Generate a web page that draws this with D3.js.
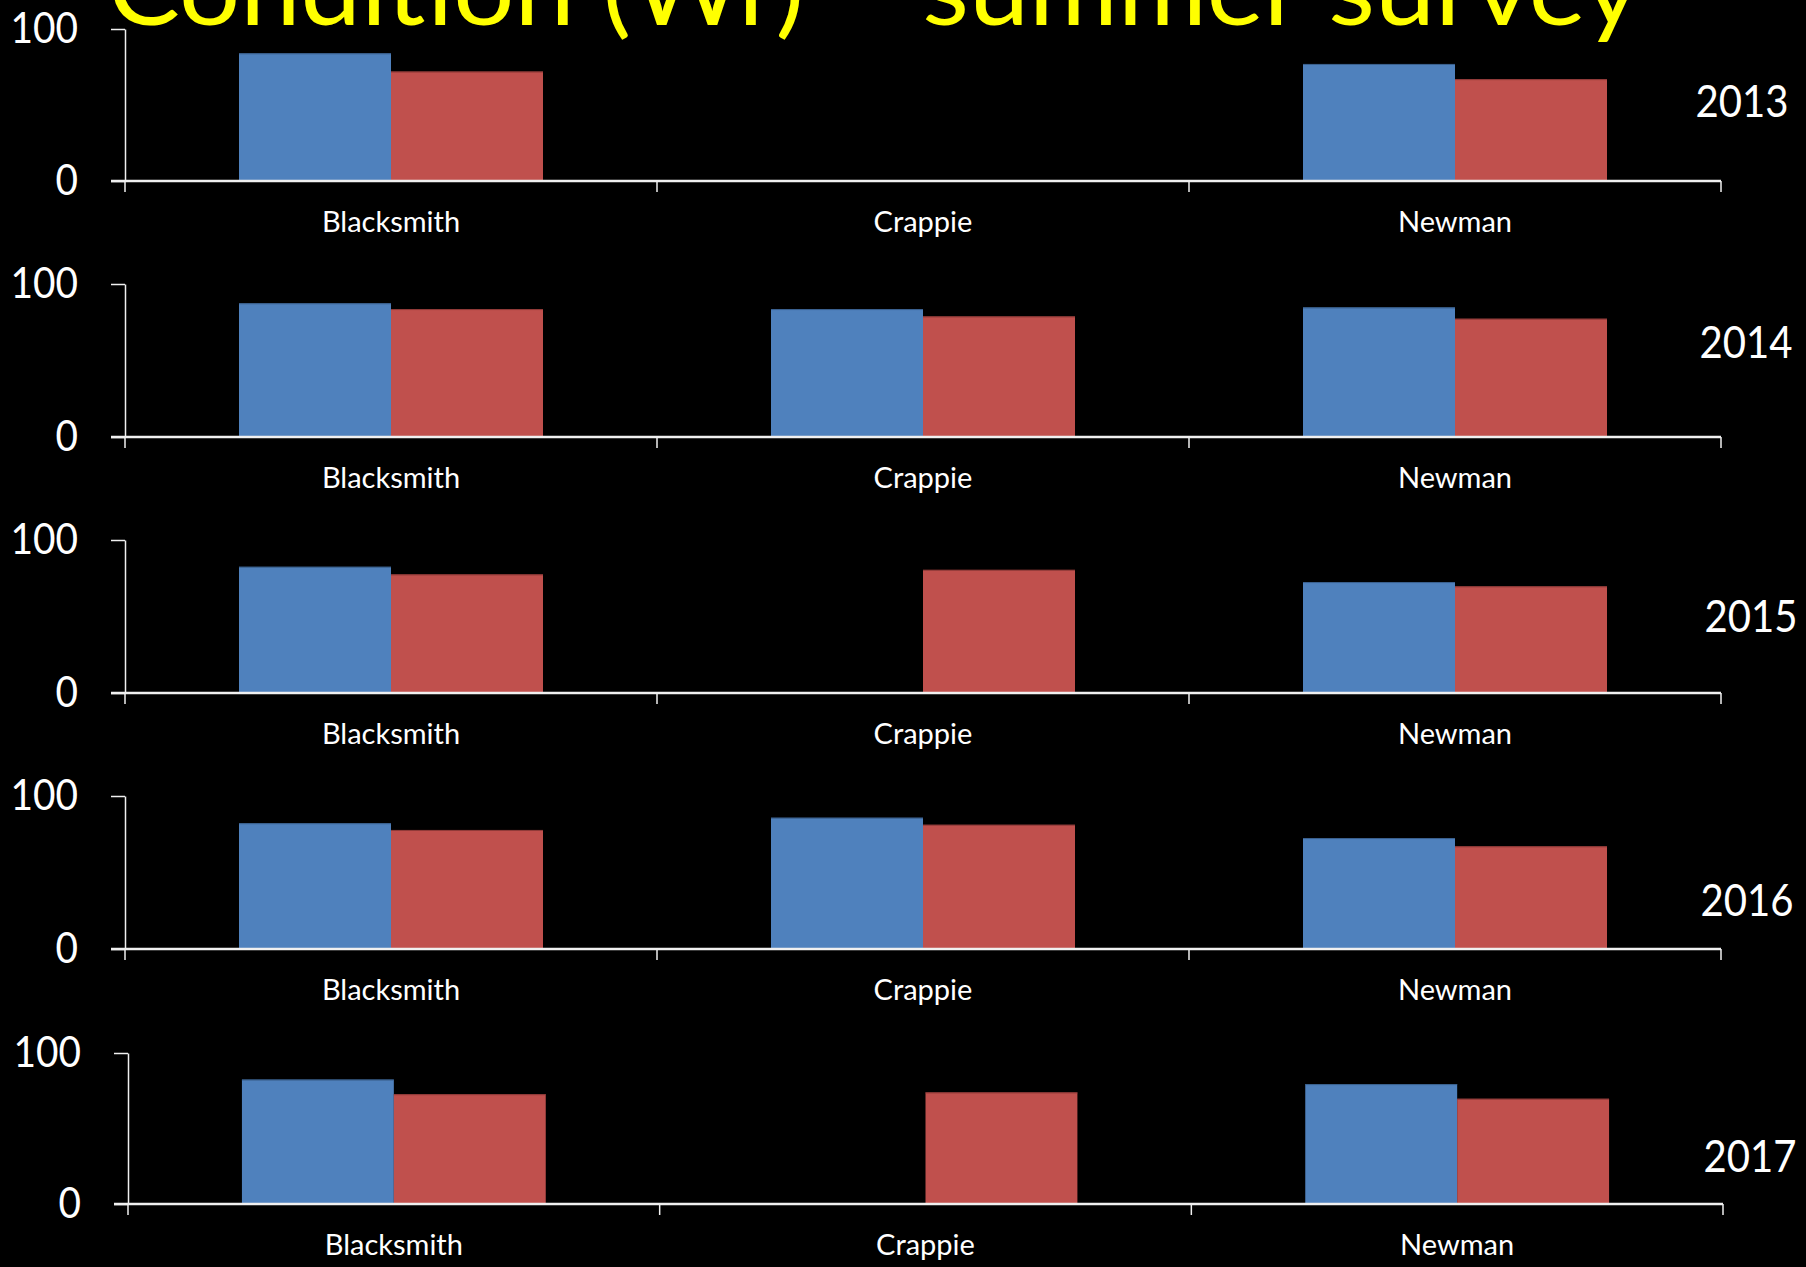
<!DOCTYPE html>
<html>
<head>
<meta charset="utf-8">
<script src="https://cdn.jsdelivr.net/npm/d3@7"></script>
<style>
  html, body { margin: 0; padding: 0; background: #000; }
  svg { display: block; }
  text { font-family: Lato, "Open Sans", sans-serif; }
</style>
</head>
<body>
<svg id="chart" width="1806" height="1267"></svg>
<script>
// ---- data ----
const titleText = "Condition (Wr) \u2013 summer survey";
const categories = ["Blacksmith", "Crappie", "Newman"];
const years = ["2013", "2014", "2015", "2016", "2017"];
const seriesNames = ["Series 1", "Series 2"];
// values per year, per category (null = no bar)
const series1Values = [
  [84, null, 77],
  [87.4, 83.6, 84.7],
  [82.5, null, 72.5],
  [82.2, 85.8, 72.5],
  [82.4, null, 79.4]
];
const series2Values = [
  [72, null, 67],
  [83.6, 78.8, 77.3],
  [77.5, 80.5, 69.7],
  [77.8, 81.2, 67.1],
  [72.7, 73.9, 69.7]
];
const yTickValues = [0, 100];

// ---- layout / style ----
const colors = ["#4F81BD", "#C0504D"];
const panelTop = [29, 284, 540, 796, 1053];
const panelBase = [181, 437, 693, 949, 1204];
const panelLeft = [125, 125, 125, 125, 128];
const panelRight = [1721, 1721, 1721, 1721, 1723];
const yearX = [1742, 1746, 1751, 1747, 1750];
const yearY = [100, 341, 615, 899, 1155];

const svg = d3.select("#chart");
svg.append("rect").attr("width", 1806).attr("height", 1267).attr("fill", "#000");

// title (clipped at the top of the page like in the reference)
svg.append("text")
  .attr("x", 108).attr("y", 25)
  .attr("fill", "#FFFF00")
  .attr("font-size", 100)
  .attr("textLength", 1532)
  .attr("lengthAdjust", "spacingAndGlyphs")
  .text(titleText);

years.forEach((yr, i) => {
  const g = svg.append("g");
  const x = d3.scaleBand().domain(categories).range([panelLeft[i], panelRight[i]]).padding(0);
  const xs = d3.scaleBand().domain(seriesNames).range([0, x.bandwidth()]).paddingInner(0).paddingOuter(0.75);
  const y = d3.scaleLinear().domain([0, 100]).range([panelBase[i], panelTop[i]]);

  const rows = categories.map((c, j) => ({
    cat: c,
    vals: [series1Values[i][j], series2Values[i][j]]
  }));

  // bars
  rows.forEach(r => {
    r.vals.forEach((v, k) => {
      if (v == null) return;
      g.append("rect")
        .attr("x", x(r.cat) + xs(seriesNames[k]))
        .attr("width", xs.bandwidth())
        .attr("y", y(v))
        .attr("height", y(0) - y(v))
        .attr("fill", colors[k]);
      g.append("line")
        .attr("x1", x(r.cat) + xs(seriesNames[k]))
        .attr("x2", x(r.cat) + xs(seriesNames[k]) + xs.bandwidth())
        .attr("y1", y(v) + 0.5).attr("y2", y(v) + 0.5)
        .attr("stroke", k === 0 ? "#3A5F8C" : "#8E3A38")
        .attr("stroke-width", 1);
    });
  });

  // y axis
  const yAxis = d3.axisLeft(y).tickValues(yTickValues).tickSize(14).tickPadding(33).tickSizeOuter(0);
  const ya = g.append("g").attr("transform", `translate(${panelLeft[i]},0)`).call(yAxis);
  ya.select(".domain").attr("stroke", "#f0f0f0").attr("stroke-width", 1.5);
  ya.selectAll(".tick line").attr("stroke", "#f0f0f0").attr("stroke-width", 1.5);
  ya.selectAll(".tick text")
    .attr("fill", "#fff")
    .attr("font-size", 42)
    .attr("font-family", "Lato, sans-serif")
    .attr("textLength", d => String(d).length * 22.5)
    .attr("lengthAdjust", "spacingAndGlyphs");

  // x axis: labels at band centres, ticks at band boundaries
  const xAxis = d3.axisBottom(x).tickSize(0).tickPadding(0).tickSizeOuter(0);
  const xa = g.append("g").attr("transform", `translate(0,${panelBase[i]})`).call(xAxis);
  xa.select(".domain").remove();
  xa.selectAll(".tick text")
    .attr("fill", "#fff")
    .attr("font-size", 29)
    .attr("font-family", "Lato, sans-serif")
    .attr("dy", null)
    .attr("y", 51);
  const bounds = categories.map(c => x(c)).concat([x.range()[1]]);
  g.append("line")
    .attr("x1", panelLeft[i] - 14).attr("x2", panelRight[i])
    .attr("y1", panelBase[i]).attr("y2", panelBase[i])
    .attr("stroke", "#f0f0f0").attr("stroke-width", 2.5);
  g.selectAll(".btick").data(bounds).enter().append("line")
    .attr("x1", d => d).attr("x2", d => d)
    .attr("y1", panelBase[i]).attr("y2", panelBase[i] + 11)
    .attr("stroke", "#f0f0f0").attr("stroke-width", 1.5);

  // year label
  g.append("text")
    .attr("x", yearX[i]).attr("y", yearY[i])
    .attr("text-anchor", "middle")
    .attr("dominant-baseline", "central")
    .attr("fill", "#fff")
    .attr("font-size", 44)
    .attr("textLength", 93)
    .attr("lengthAdjust", "spacingAndGlyphs")
    .text(yr);
});
</script>
</body>
</html>
